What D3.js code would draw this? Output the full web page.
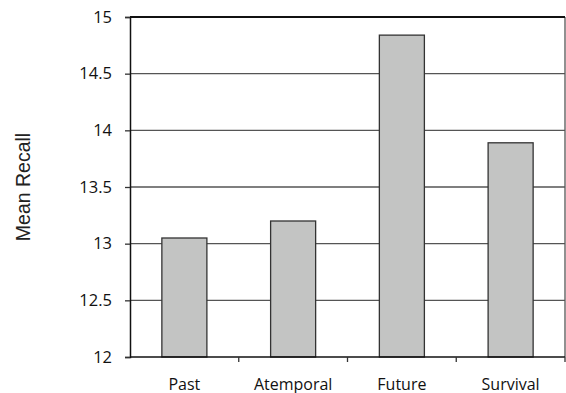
<!DOCTYPE html>
<html>
<head>
<meta charset="utf-8">
<script src="https://cdn.jsdelivr.net/npm/d3@7"></script>
<style>
    body { margin: 0; background: #fff; overflow: hidden; }
</style>
</head>
<body>
<div id="barchart"></div>
<script>
const conditions = ["Past", "Atemporal", "Future", "Survival"];
const meanRecall = [13.05, 13.2, 14.84, 13.89];
const yTicks = [12, 12.5, 13, 13.5, 14, 14.5, 15];

function main() {
    const canvasWidth = 566;
    const canvasHeight = 393;
    const margin = { top: 17, right: 1, bottom: 36, left: 130 };

    const svg = d3.select("#barchart").append("svg")
        .attr("width", canvasWidth)
        .attr("height", canvasHeight)
        .style("display", "block")

    const width = canvasWidth - margin.left - margin.right;
    const height = canvasHeight - margin.top - margin.bottom;

    const container_g = svg.append("g")
        .attr("transform", "translate(" + margin.left + "," + margin.top + ")");

    const data = conditions.map((c, i) => { return { name: c, value: meanRecall[i] } });

    // categories (ticks sit on the boundaries between them)
    const xScale = d3.scaleBand()
        .domain(conditions)
        .range([0, width])
        .padding(0);

    const barScale = d3.scaleBand()
        .domain(conditions)
        .range([0, width])
        .paddingInner(0.586)
        .paddingOuter(0.293);

    const yScale = d3.scaleLinear()
        .domain([12, 15])
        .range([height, 0]);

    // gridlines
    container_g.append("g")
        .selectAll("line")
        .data(yTicks.filter(t => t > 12 && t < 15))
        .enter().append("line")
        .attr("x1", 0)
        .attr("x2", width)
        .attr("y1", d => yScale(d))
        .attr("y2", d => yScale(d))
        .attr("stroke", "#555")
        .attr("stroke-width", 1.3);

    // right frame line
    container_g.append("line")
        .attr("x1", width)
        .attr("x2", width)
        .attr("y1", yScale(15))
        .attr("y2", yScale(12))
        .attr("stroke", "#555")
        .attr("stroke-width", 1.3);

    // top frame line
    container_g.append("line")
        .attr("x1", 0)
        .attr("x2", width)
        .attr("y1", yScale(15))
        .attr("y2", yScale(15))
        .attr("stroke", "#111")
        .attr("stroke-width", 2);

    // bars
    container_g.append("g")
        .selectAll("rect")
        .data(data)
        .enter().append("rect")
        .attr("x", d => barScale(d.name))
        .attr("width", barScale.bandwidth())
        .attr("y", d => yScale(d.value))
        .attr("height", d => yScale(12) - yScale(d.value))
        .attr("fill", "#c3c4c3")
        .attr("stroke", "#333")
        .attr("stroke-width", 1.3);

    // y axis
    const yAxis = container_g.append("g")
        .call(d3.axisLeft(yScale)
            .tickValues(yTicks)
            .tickFormat(d3.format("~g"))
            .tickSize(5)
            .tickPadding(13));
    yAxis.select(".domain").attr("stroke", "#111").attr("stroke-width", 1.5);
    yAxis.selectAll(".tick line").attr("stroke", "#333").attr("stroke-width", 1.3);
    yAxis.selectAll(".tick text")
        .attr("font-family", "'Open Sans', sans-serif")
        .attr("font-size", "16.5px")
        .attr("fill", "#111");

    // x axis: ticks on category boundaries
    const xAxis = container_g.append("g")
        .attr("transform", "translate(0," + height + ")");
    xAxis.append("line")
        .attr("x1", 0)
        .attr("x2", width)
        .attr("stroke", "#111")
        .attr("stroke-width", 1.5);
    xAxis.selectAll(".bound")
        .data(conditions.slice(1).concat(["end"]))
        .enter().append("line")
        .attr("class", "bound")
        .attr("x1", d => d === "end" ? width : xScale(d))
        .attr("x2", d => d === "end" ? width : xScale(d))
        .attr("y1", 0)
        .attr("y2", 5)
        .attr("stroke", "#333")
        .attr("stroke-width", 1.3);
    xAxis.selectAll("text")
        .data(conditions)
        .enter().append("text")
        .attr("x", d => xScale(d) + xScale.bandwidth() / 2)
        .attr("y", 32.5)
        .attr("text-anchor", "middle")
        .attr("font-family", "'Open Sans', sans-serif")
        .attr("font-size", "16px")
        .attr("fill", "#111")
        .text(d => d);

    // y title
    svg.append("text")
        .attr("transform", "translate(30," + (margin.top + height / 2) + ") rotate(-90)")
        .attr("text-anchor", "middle")
        .attr("font-family", "'Liberation Sans', Arial, sans-serif")
        .attr("font-size", "19.5px")
        .attr("fill", "#222")
        .text("Mean Recall");
}
main();
</script>
</body>
</html>
